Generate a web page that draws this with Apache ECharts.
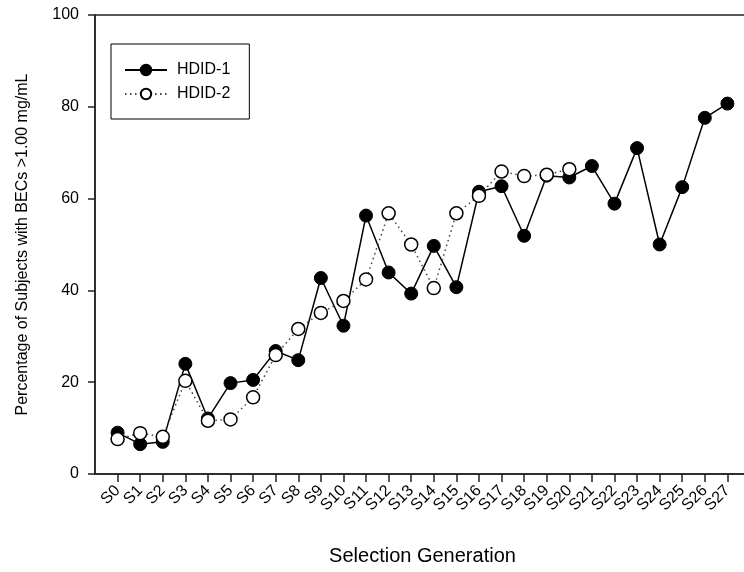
<!DOCTYPE html>
<html>
<head>
<meta charset="utf-8">
<script src="https://cdn.jsdelivr.net/npm/echarts@6/dist/echarts.min.js"></script>
<style>
	html, body { margin: 0; padding: 0; background: #fff; }
	#plot { width: 744px; height: 572px; }
</style>
</head>
<body>
<div id="plot"></div>
<script>
const generations = ['S0', 'S1', 'S2', 'S3', 'S4', 'S5', 'S6', 'S7', 'S8', 'S9', 'S10', 'S11', 'S12', 'S13',
	'S14', 'S15', 'S16', 'S17', 'S18', 'S19', 'S20', 'S21', 'S22', 'S23', 'S24', 'S25', 'S26', 'S27'];
const hdid1 = [9.0, 6.5, 7.0, 24.0, 12.1, 19.8, 20.5, 26.8, 24.8, 42.7, 32.3, 56.3, 43.9, 39.3,
	49.7, 40.7, 61.5, 62.7, 51.9, 65.0, 64.6, 67.1, 58.9, 71.0, 50.0, 62.5, 77.6, 80.7];
const hdid2 = [7.6, 8.9, 8.1, 20.3, 11.6, 11.9, 16.7, 25.9, 31.6, 35.1, 37.7, 42.4, 56.8, 50.0,
	40.5, 56.8, 60.6, 65.9, 64.9, 65.2, 66.4];
const yTicks = [0, 20, 40, 60, 80, 100];

const font = 'Liberation Sans, Arial, sans-serif';
const axisColor = '#222';

function toPoints(values) {
	return values.map((it, index) => [index, it]);
}

function plot() {
	const tickIdx = generations.map((it, index) => index);
	const option = {
		animation: false,
		textStyle: { fontFamily: font },
		grid: {
			left: 95,
			top: 15,
			width: 655,
			bottom: 98,
			outerBoundsMode: 'none',
			containLabel: false,
			show: true,
			borderColor: axisColor,
			borderWidth: 1.5
		},
		legend: {
			left: 111,
			top: 44,
			orient: 'vertical',
			padding: [18, 19, 17, 13],
			itemWidth: 42,
			itemHeight: 13,
			itemGap: 8,
			borderColor: '#000',
			borderWidth: 1,
			textStyle: { fontSize: 16, color: '#000', fontFamily: font, padding: [0, 0, 0, 5] },
			data: ['HDID-1', 'HDID-2']
		},
		xAxis: {
			type: 'value',
			min: -1,
			max: 28,
			interval: 1,
			name: 'Selection Generation',
			nameLocation: 'middle',
			nameGap: 72,
			nameTextStyle: { fontSize: 20, color: '#000', fontFamily: font },
			splitLine: { show: false },
			axisLine: { onZero: false, lineStyle: { color: axisColor, width: 1.5 } },
			axisTick: {
				length: 8,
				customValues: tickIdx,
				lineStyle: { color: axisColor, width: 1.5 }
			},
			axisLabel: {
				rotate: 45,
				margin: 14,
				fontSize: 16,
				color: '#000',
				customValues: tickIdx,
				formatter: (v) => generations[v] || ''
			}
		},
		yAxis: {
			type: 'value',
			min: 0,
			max: 100,
			interval: 20,
			name: 'Percentage of Subjects with BECs >1.00 mg/mL',
			nameLocation: 'middle',
			nameGap: 64,
			nameTextStyle: { fontSize: 16, color: '#000', fontFamily: font },
			splitLine: { show: false },
			axisLine: { show: true, onZero: false, lineStyle: { color: axisColor, width: 1.5 } },
			axisTick: { show: true, length: 7, lineStyle: { color: axisColor, width: 1.5 } },
			axisLabel: {
				margin: 16,
				fontSize: 16,
				color: '#000',
				customValues: yTicks
			}
		},
		series: [
			{
				name: 'HDID-1',
				type: 'line',
				symbol: 'circle',
				symbolSize: 13,
				itemStyle: { color: '#000', borderColor: '#000', borderWidth: 1 },
				lineStyle: { color: '#000', width: 1.5 },
				data: toPoints(hdid1),
				z: 2
			},
			{
				name: 'HDID-2',
				type: 'line',
				symbol: 'circle',
				symbolSize: 13,
				itemStyle: { color: '#fff', borderColor: '#000', borderWidth: 1.5 },
				lineStyle: { color: '#444', width: 1.5, type: [1.5, 3.5] },
				data: toPoints(hdid2),
				z: 3
			}
		]
	};
	const plotChart = echarts.init(document.getElementById('plot'));
	plotChart.setOption(option);
}

window.addEventListener('load', () => {
	plot();
});
</script>
</body>
</html>
